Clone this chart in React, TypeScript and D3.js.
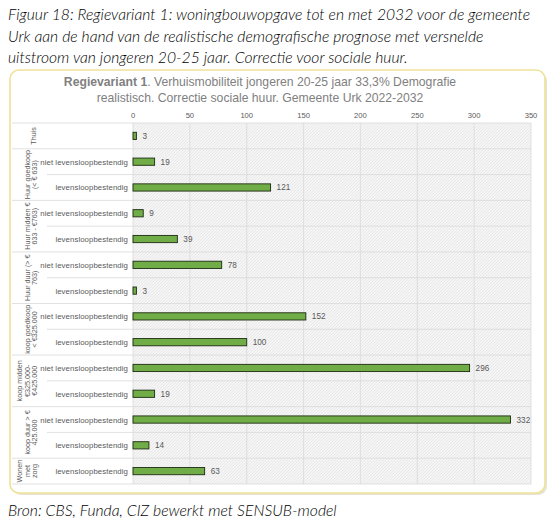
import React from "react";
import * as d3 from "d3";

// caption and chart texts
const captionLines = [
  "Figuur 18: Regievariant 1: woningbouwopgave tot en met 2032 voor de gemeente",
  "Urk aan de hand van de realistische demografische prognose met versnelde",
  "uitstroom van jongeren 20-25 jaar.  Correctie voor sociale huur.",
];
const sourceLine = "Bron: CBS, Funda, CIZ bewerkt met SENSUB-model";
const titleBold = "Regievariant 1";
const titleRest = ". Verhuismobiliteit jongeren 20-25 jaar 33,3% Demografie";
const titleLine2 = "realistisch. Correctie sociale huur. Gemeente Urk 2022-2032";

// data
const groupLabels = [
  ["Thuis"],
  ["Huur goedkoop", "(< € 633)"],
  ["Huur midden €", "633 - €763)"],
  ["Huur duur (> €", "763)"],
  ["koop goedkoop", "< €325.000"],
  ["koop midden", "€325.000-", "€425.000"],
  ["koop duur > €", "425.000"],
  ["Wonen", "met", "zorg"],
];
const groupSizes = [1, 2, 2, 2, 2, 2, 2, 1];
const rowLabels = [
  "",
  "niet levensloopbestendig",
  "levensloopbestendig",
  "niet levensloopbestendig",
  "levensloopbestendig",
  "niet levensloopbestendig",
  "levensloopbestendig",
  "niet levensloopbestendig",
  "levensloopbestendig",
  "niet levensloopbestendig",
  "levensloopbestendig",
  "niet levensloopbestendig",
  "levensloopbestendig",
  "levensloopbestendig",
];
const values = [3, 19, 121, 9, 39, 78, 3, 152, 100, 296, 19, 332, 14, 63];
const xTicks = [0, 50, 100, 150, 200, 250, 300, 350];

const W = 560;
const H = 525;
const plot = { left: 133, right: 531, top: 123, bottom: 484 };
const frameLeft = 12;
const groupColRight = 47;
const font = "'Liberation Sans', Arial, sans-serif";
// horizontal centre of the rotated group label block, by number of lines
const groupLabelCentre: Record<number, number> = { 1: 33, 2: 30.8, 3: 27 };

export default function App() {
  const x = d3.scaleLinear().domain([0, 350]).range([plot.left, plot.right]);
  const y = d3
    .scaleBand<number>()
    .domain(d3.range(values.length))
    .range([plot.top, plot.bottom]);
  const bw = y.bandwidth();
  const barH = bw * 0.28;

  // group start indices
  const starts: number[] = [];
  groupSizes.reduce((acc, n) => {
    starts.push(acc);
    return acc + n;
  }, 0);

  return (
    <svg
      width={W}
      height={H}
      style={{ position: "absolute", left: 0, top: 0, background: "#fff" }}
    >
      <defs>
        <pattern id="hatch" width="3" height="3" patternUnits="userSpaceOnUse">
          <rect width="3" height="3" fill="#f5f5f5" />
          <path d="M0,3 L3,0" stroke="#e4e4e4" strokeWidth="0.8" />
        </pattern>
      </defs>

      {/* caption */}
      <g
        fontFamily="Lato, 'Open Sans', sans-serif"
        fontStyle="italic"
        fontWeight={300}
        fontSize={15.7}
        fill="#000"
      >
        {captionLines.map((t, i) => (
          <text key={i} x={8} y={20 + i * 21.7}>
            {t}
          </text>
        ))}
        <text x={8} y={516}>
          {sourceLine}
        </text>
      </g>

      {/* frame */}
      <rect x={12} y={72} width={535} height={423} rx={9} fill="#d0c8a8" opacity={0.5} />
      <rect x={10} y={70} width={535} height={423} rx={9} fill="#fff" stroke="#efe29a" strokeWidth={1.6} />

      {/* title */}
      <g fontFamily={font} fontSize={12.2} fill="#808080" textAnchor="middle">
        <text x={260} y={86}>
          <tspan fontWeight="bold">{titleBold}</tspan>
          {titleRest}
        </text>
        <text x={260} y={101.5}>
          {titleLine2}
        </text>
      </g>

      {/* plot background */}
      <rect
        x={plot.left}
        y={plot.top}
        width={plot.right - plot.left}
        height={plot.bottom - plot.top}
        fill="url(#hatch)"
      />

      {/* vertical gridlines */}
      {xTicks.map((t) => (
        <line
          key={t}
          x1={x(t)}
          x2={x(t)}
          y1={plot.top}
          y2={plot.bottom}
          stroke="#d9d9d9"
          strokeWidth={0.8}
        />
      ))}

      {/* horizontal row lines */}
      {d3.range(values.length + 1).map((i) => {
        const yy = plot.top + i * bw;
        const isGroup = i === 0 || i === values.length || starts.includes(i);
        return (
          <line
            key={i}
            x1={isGroup ? frameLeft : groupColRight}
            x2={plot.right}
            y1={yy}
            y2={yy}
            stroke="#d9d9d9"
            strokeWidth={0.8}
          />
        );
      })}

      {/* tick labels */}
      <g fontFamily={font} fontSize={7.6} fill="#595959" textAnchor="middle">
        {xTicks.map((t) => (
          <text key={t} x={x(t)} y={118}>
            {t}
          </text>
        ))}
      </g>

      {/* bars */}
      {values.map((v, i) => (
        <rect
          key={i}
          x={x(0)}
          y={(y(i) as number) + (bw - barH) / 2}
          width={x(v) - x(0)}
          height={barH}
          fill="#70ad47"
          stroke="#1e2a12"
          strokeWidth={0.9}
        />
      ))}

      {/* value labels */}
      <g fontFamily={font} fontSize={8.2} fill="#595959">
        {values.map((v, i) => (
          <text key={i} x={x(v) + 6} y={(y(i) as number) + bw / 2 + 3}>
            {v}
          </text>
        ))}
      </g>

      {/* row labels */}
      <g fontFamily={font} fontSize={7.8} letterSpacing={0.08} fill="#595959" textAnchor="end">
        {rowLabels.map((l, i) => (
          <text key={i} x={128} y={(y(i) as number) + bw / 2 + 3}>
            {l}
          </text>
        ))}
      </g>

      {/* group labels, rotated */}
      <g fontFamily={font} fontSize={7.2} fill="#595959" textAnchor="middle">
        {groupLabels.map((lines, g) => {
          const cy = plot.top + (starts[g] + groupSizes[g] / 2) * bw;
          const lh = 7.5;
          const cx0 = groupLabelCentre[lines.length] - ((lines.length - 1) * lh) / 2;
          return (
            <g key={g}>
              {lines.map((l, k) => {
                const cx = cx0 + k * lh;
                return (
                  <text
                    key={k}
                    transform={`translate(${cx + 2.6},${cy}) rotate(-90)`}
                  >
                    {l}
                  </text>
                );
              })}
            </g>
          );
        })}
      </g>
    </svg>
  );
}
